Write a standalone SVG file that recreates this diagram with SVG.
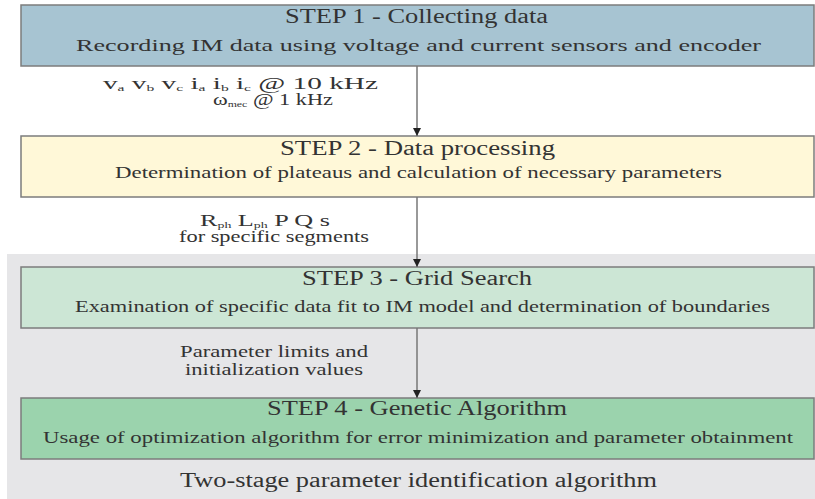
<svg xmlns="http://www.w3.org/2000/svg" width="815" height="499" viewBox="0 0 815 499">
<defs>
<style>
text{font-family:'Liberation Serif','Times New Roman',Times,serif;fill:#333;}
.ti{font-size:20px;}
.su{font-size:17.5px;}
.lb{font-size:17px;}
.sb{font-size:9px;}
.box{stroke:#7c7c7c;stroke-width:1.5;}
.con{stroke:#777;stroke-width:1.5;fill:none;}
</style>
<marker id="ah" viewBox="0 0 10 10" refX="10" refY="5" markerWidth="8" markerHeight="8" markerUnits="userSpaceOnUse" orient="auto">
<path d="M0,0 L10,5 L0,10 z" fill="#222"/>
</marker>
</defs>
<rect x="0" y="0" width="815" height="499" fill="#ffffff"/>
<rect id="bg" x="7" y="254" width="808" height="245" fill="#e6e6e8"/>

<g font-family="Liberation Serif, serif">
<g id="step1">
<rect class="box" x="21" y="5" width="793" height="61" fill="#a7c4d2"/>
<text class="ti" x="285" y="23" textLength="263" lengthAdjust="spacingAndGlyphs">STEP 1 - Collecting data</text>
<text class="su" x="76" y="51" textLength="685" lengthAdjust="spacingAndGlyphs">Recording IM data using voltage and current sensors and encoder</text>
</g>

<g id="step2">
<rect class="box" x="21" y="136" width="793" height="61" fill="#fff8d8"/>
<text class="ti" x="280" y="155" textLength="275" lengthAdjust="spacingAndGlyphs">STEP 2 - Data processing</text>
<text class="su" x="115" y="178" textLength="607" lengthAdjust="spacingAndGlyphs">Determination of plateaus and calculation of necessary parameters</text>
</g>

<g id="step3">
<rect class="box" x="21" y="267" width="793" height="61" fill="#cce6d5"/>
<text class="ti" x="302" y="285" textLength="230" lengthAdjust="spacingAndGlyphs">STEP 3 - Grid Search</text>
<text class="su" x="75" y="312" textLength="695" lengthAdjust="spacingAndGlyphs">Examination of specific data fit to IM model and determination of boundaries</text>
</g>

<g id="step4">
<rect class="box" x="21" y="398" width="793" height="61" fill="#9bd3ad"/>
<text class="ti" x="267" y="415" textLength="300" lengthAdjust="spacingAndGlyphs">STEP 4 - Genetic Algorithm</text>
<text class="su" x="43" y="443" textLength="750" lengthAdjust="spacingAndGlyphs">Usage of optimization algorithm for error minimization and parameter obtainment</text>
</g>

<g id="caption">
<text class="ti" x="180" y="487" textLength="477" lengthAdjust="spacingAndGlyphs">Two-stage parameter identification algorithm</text>
</g>

<g id="connectors">
<line class="con" x1="417" y1="66" x2="417" y2="136" marker-end="url(#ah)"/>
<line class="con" x1="417" y1="197" x2="417" y2="267" marker-end="url(#ah)"/>
<line class="con" x1="417" y1="328" x2="417" y2="398" marker-end="url(#ah)"/>
</g>

<g id="labels">
<text class="lb" x="103" y="89" textLength="275" lengthAdjust="spacingAndGlyphs">v<tspan class="sb" baseline-shift="-2">a</tspan> v<tspan class="sb" baseline-shift="-2">b</tspan> v<tspan class="sb" baseline-shift="-2">c</tspan> i<tspan class="sb" baseline-shift="-2">a</tspan> i<tspan class="sb" baseline-shift="-2">b</tspan> i<tspan class="sb" baseline-shift="-2">c</tspan> @ 10 kHz</text>
<text class="lb" x="213" y="105" textLength="120" lengthAdjust="spacingAndGlyphs">ω<tspan class="sb" baseline-shift="-2">mec</tspan> @ 1 kHz</text>
<text class="lb" x="200" y="226" textLength="130" lengthAdjust="spacingAndGlyphs">R<tspan class="sb" baseline-shift="-2">ph</tspan> L<tspan class="sb" baseline-shift="-2">ph</tspan> P Q s</text>
<text class="lb" x="179" y="242" textLength="190" lengthAdjust="spacingAndGlyphs">for specific segments</text>
<text class="lb" x="180" y="357" textLength="188" lengthAdjust="spacingAndGlyphs">Parameter limits and</text>
<text class="lb" x="185" y="375" textLength="178" lengthAdjust="spacingAndGlyphs">initialization values</text>
</g>
</g>
</svg>
